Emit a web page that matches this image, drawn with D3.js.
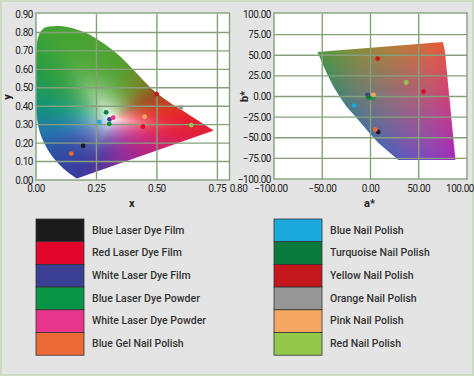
<!DOCTYPE html>
<html>
<head>
<meta charset="utf-8">
<script src="https://cdn.jsdelivr.net/npm/d3@7"></script>
<style>
    html, body { margin: 0; padding: 0; background: #e4e4e4; }
    svg { display: block; }
</style>
</head>
<body>
<div id="chart"></div>
<script>
// series, in legend order
const seriesNames = [
    "Blue Laser Dye Film", "Red Laser Dye Film", "White Laser Dye Film",
    "Blue Laser Dye Powder", "White Laser Dye Powder", "Blue Gel Nail Polish",
    "Blue Nail Polish", "Turquoise Nail Polish", "Yellow Nail Polish",
    "Orange Nail Polish", "Pink Nail Polish", "Red Nail Polish"
];
const seriesColors = [
    "#1b1b1b", "#e3052b", "#3a3f93", "#0a9445", "#e6358b", "#eb6a35",
    "#1ba8dd", "#0b7a3f", "#c4171d", "#969696", "#f6a763", "#93c84b"
];

// CIE xy chromaticity of each sample
const chromaX = [0.195, 0.442, 0.304, 0.303, 0.319, 0.146, 0.262, 0.290, 0.499, 0.598, 0.449, 0.642];
const chromaY = [0.185, 0.289, 0.329, 0.304, 0.338, 0.143, 0.314, 0.367, 0.466, 0.392, 0.343, 0.298];

// CIELAB a*, b* of each sample (null = not plotted)
const labA = [8, 55, -3, 2, null, 5, -17, -2, 7.5, null, 3, 37];
const labB = [-43, 6, 2, -2, null, -40, -11, -1, 46, null, 2, 17];

// boundary of the coloured areas
const locusX = [0.169, 0.113, 0.058, 0.017, 0.002, 0.000, 0.000, 0.010, 0.035, 0.075, 0.130, 0.210, 0.335, 0.500, 0.625, 0.735];
const locusY = [0.008, 0.063, 0.145, 0.253, 0.360, 0.500, 0.650, 0.780, 0.825, 0.834, 0.830, 0.795, 0.685, 0.470, 0.360, 0.268];
const gamutA = [-55, 75, 77, 88, 29, 17, 8, -0.5, -13, -25, -32, -38.5, -46];
const gamutB = [54, 66, 56, -77, -77, -65, -56, -45, -28, -12, 0, 12, 30];

// hue stops for the chromaticity diagram (angle round the white point)
const hueAngles = [0, 12, 36, 60, 86, 116, 139, 167, 195, 216, 246, 281, 326, 345, 360];
const hueColors = ["#e62030", "#de3422", "#9a5222", "#74882a", "#52a232", "#44a432", "#289c44", "#12957a",
    "#2474ac", "#3050a6", "#3a3a9e", "#8e2e9c", "#d02270", "#e2203c", "#e62030"];

const xyXTicks = [0, 0.25, 0.5, 0.75, 0.8];
const xyYTicks = [0, 0.1, 0.2, 0.3, 0.4, 0.5, 0.6, 0.7, 0.8, 0.9];
const xyXGrid = [0.25, 0.5, 0.75];
const xyYGrid = [0.1, 0.2, 0.3, 0.4, 0.5, 0.6, 0.7, 0.8];
const labATicks = [-100, -50, 0, 50, 100];
const labBTicks = [-100, -75, -50, -25, 0, 25, 50, 75, 100];
const labAGrid = [-50, 0, 50];
const labBGrid = [-75, -50, -25, 0, 25, 50, 75];

const width = 474, height = 376;
const gridColor = "#86a07c";
const font = "Roboto, 'Open Sans', sans-serif";
const white = [0.315, 0.33];

const svg = d3.select("#chart").append("svg")
    .attr("width", width)
    .attr("height", height);

svg.append("rect")
    .attr("x", 1).attr("y", 1)
    .attr("width", width - 2).attr("height", height - 2)
    .attr("fill", "#e4e4e4")
    .attr("stroke", "#c9dcc2")
    .attr("stroke-width", 2);

const xs = d3.scaleLinear().domain([0, 0.8]).range([36, 229.5]);
const ys = d3.scaleLinear().domain([0, 0.9]).range([180, 14]);
const as = d3.scaleLinear().domain([-100, 100]).range([274, 467]);
const bs = d3.scaleLinear().domain([-100, 100]).range([179, 14]);

const hueScale = d3.scaleLinear().domain(hueAngles).range(hueColors).interpolate(d3.interpolateRgb);

const locusLine = d3.line()
    .x(d => xs(d[0])).y(d => ys(d[1]))
    .curve(d3.curveCatmullRom);
const locusPath = locusLine(locusX.map((x, i) => [x, locusY[i]])) + "Z";

const gamutPath = d3.line()
    .x(d => as(d[0])).y(d => bs(d[1]))(gamutA.map((a, i) => [a, gamutB[i]])) + "Z";

// distance from the white point to the locus, per degree
const boundR = new Array(360).fill(0);
(function () {
    const tmp = svg.append("path").attr("d", locusPath);
    const node = tmp.node();
    const len = node.getTotalLength();
    for (let k = 0; k <= 2000; k++) {
        const p = node.getPointAtLength(len * k / 2000);
        const dx = xs.invert(p.x) - white[0], dy = ys.invert(p.y) - white[1];
        let ang = Math.round(Math.atan2(dy, dx) * 180 / Math.PI);
        if (ang < 0) ang += 360;
        ang %= 360;
        boundR[ang] = Math.max(boundR[ang], Math.hypot(dx, dy));
    }
    tmp.remove();
    for (let i = 0; i < 360; i++) {
        if (boundR[i] > 0) continue;
        let a = i, b = i;
        while (boundR[(a + 359) % 360] === 0) a--;
        while (boundR[(b + 1) % 360] === 0) b++;
        boundR[i] = (boundR[(a + 359) % 360] + boundR[(b + 1) % 360]) / 2;
    }
})();

function xyColor(x, y) {
    const dx = x - white[0], dy = y - white[1];
    let ang = Math.atan2(dy, dx) * 180 / Math.PI;
    if (ang < 0) ang += 360;
    const t = Math.min(1, Math.hypot(dx, dy) / boundR[Math.round(ang) % 360]);
    const s = 1 - Math.pow(1 - t, 3);
    return d3.rgb(d3.interpolateRgb("#ffffff", hueScale(ang))(s));
}

function labColor(a, b) {
    return d3.rgb(d3.lab(50 + b * 0.11, a * 0.72, b * 0.72));
}

// paint a colour field into a canvas and return it as an image url
function paintField(x0, y0, w, h, colorAt) {
    const canvas = document.createElement("canvas");
    canvas.width = w;
    canvas.height = h;
    const ctx = canvas.getContext("2d");
    const img = ctx.createImageData(w, h);
    for (let j = 0; j < h; j++) {
        for (let i = 0; i < w; i++) {
            const c = colorAt(x0 + i + 0.5, y0 + j + 0.5);
            const k = (j * w + i) * 4;
            img.data[k] = Math.max(0, Math.min(255, c.r));
            img.data[k + 1] = Math.max(0, Math.min(255, c.g));
            img.data[k + 2] = Math.max(0, Math.min(255, c.b));
            img.data[k + 3] = 255;
        }
    }
    ctx.putImageData(img, 0, 0);
    return canvas.toDataURL();
}

function drawPanel(opts) {
    const { xScale, yScale, xTicks, yTicks, xGrid, yGrid, fmt, field, clipId, clipPath,
        pointsX, pointsY, xLabel, yLabel, yLabelX, xTickShift } = opts;
    const [x0, x1] = xScale.range();
    const [y1, y0] = yScale.range();
    const g = svg.append("g");

    g.append("rect")
        .attr("x", x0).attr("y", y0 - 1)
        .attr("width", x1 - x0).attr("height", y1 - y0 + 1)
        .attr("fill", "#fff");

    svg.append("clipPath").attr("id", clipId)
        .append("path").attr("d", clipPath);

    const fx = Math.floor(x0), fy = Math.floor(y0);
    const fw = Math.ceil(x1) - fx, fh = Math.ceil(y1) - fy;
    g.append("image")
        .attr("x", fx).attr("y", fy)
        .attr("width", fw).attr("height", fh)
        .attr("href", paintField(fx, fy, fw, fh, field))
        .attr("clip-path", `url(#${clipId})`);

    g.selectAll(".vgrid").data(xGrid).join("line")
        .attr("x1", d => xScale(d)).attr("x2", d => xScale(d))
        .attr("y1", y0).attr("y2", y1)
        .attr("stroke", gridColor).attr("stroke-width", 1.4);
    g.selectAll(".hgrid").data(yGrid).join("line")
        .attr("y1", d => yScale(d)).attr("y2", d => yScale(d))
        .attr("x1", x0).attr("x2", x1)
        .attr("stroke", gridColor).attr("stroke-width", 1.4);

    g.append("rect")
        .attr("x", x0).attr("y", y0 - 1)
        .attr("width", x1 - x0).attr("height", y1 - y0 + 1)
        .attr("fill", "none")
        .attr("stroke", gridColor).attr("stroke-width", 1.4);

    const pts = d3.range(seriesNames.length).filter(i => pointsX[i] != null);
    g.selectAll("circle").data(pts).join("circle")
        .attr("cx", i => xScale(pointsX[i]))
        .attr("cy", i => yScale(pointsY[i]))
        .attr("r", 2.4)
        .attr("fill", i => seriesColors[i]);

    g.selectAll(".xt").data(xTicks).join("text")
        .attr("x", (d, i) => xScale(d) + (xTickShift[i] || 0))
        .attr("y", 192)
        .attr("text-anchor", "middle")
        .style("font-family", font).style("font-size", "10px").style("letter-spacing", "-0.45px").style("fill", "#222")
        .text(d => fmt(d));
    g.selectAll(".yt").data(yTicks).join("text")
        .attr("x", x0 - 3)
        .attr("y", d => yScale(d) + 3.6)
        .attr("text-anchor", "end")
        .style("font-family", font).style("font-size", "10px").style("letter-spacing", "-0.45px").style("fill", "#222")
        .text(d => fmt(d));

    g.append("text")
        .attr("x", (x0 + x1) / 2 - 1)
        .attr("y", 207)
        .attr("text-anchor", "middle")
        .style("font-family", font).style("font-size", "11px").style("font-weight", "bold").style("fill", "#222")
        .text(xLabel);
    g.append("text")
        .attr("transform", `translate(${yLabelX}, ${(y0 + y1) / 2}) rotate(-90)`)
        .attr("text-anchor", "middle")
        .style("font-family", font).style("font-size", "11px").style("font-weight", "bold").style("fill", "#222")
        .text(yLabel);
}

drawPanel({
    xScale: xs, yScale: ys,
    xTicks: xyXTicks, yTicks: xyYTicks, xGrid: xyXGrid, yGrid: xyYGrid,
    fmt: d3.format(".2f"),
    field: (px, py) => xyColor(xs.invert(px), ys.invert(py)),
    clipId: "locus-clip", clipPath: locusPath,
    pointsX: chromaX, pointsY: chromaY,
    xLabel: "x", yLabel: "y", yLabelX: 11,
    xTickShift: [0, 0, 0, 0, 9]
});

drawPanel({
    xScale: as, yScale: bs,
    xTicks: labATicks, yTicks: labBTicks, xGrid: labAGrid, yGrid: labBGrid,
    fmt: d3.format(".2f"),
    field: (px, py) => labColor(as.invert(px), bs.invert(py)),
    clipId: "gamut-clip", clipPath: gamutPath,
    pointsX: labA, pointsY: labB,
    xLabel: "a*", yLabel: "b*", yLabelX: 248,
    xTickShift: [-3, 0, 0, 0, -7]
});

// legend
const rowH = 22.7;
const legend = svg.append("g").attr("class", "legend");
const items = legend.selectAll("g").data(seriesNames).join("g")
    .attr("transform", (d, i) => `translate(${i < 6 ? 36 : 274}, ${219 + (i % 6) * rowH})`);

items.append("rect")
    .attr("width", 48)
    .attr("height", rowH)
    .attr("fill", (d, i) => seriesColors[i])
    .attr("stroke", "#333")
    .attr("stroke-width", 0.8);

items.append("text")
    .attr("x", 56)
    .attr("y", 11 + 3.5)
    .style("font-family", font)
    .style("font-size", "10.5px")
    .style("font-weight", "500")
    .style("fill", "#333")
    .text(d => d);
</script>
</body>
</html>
